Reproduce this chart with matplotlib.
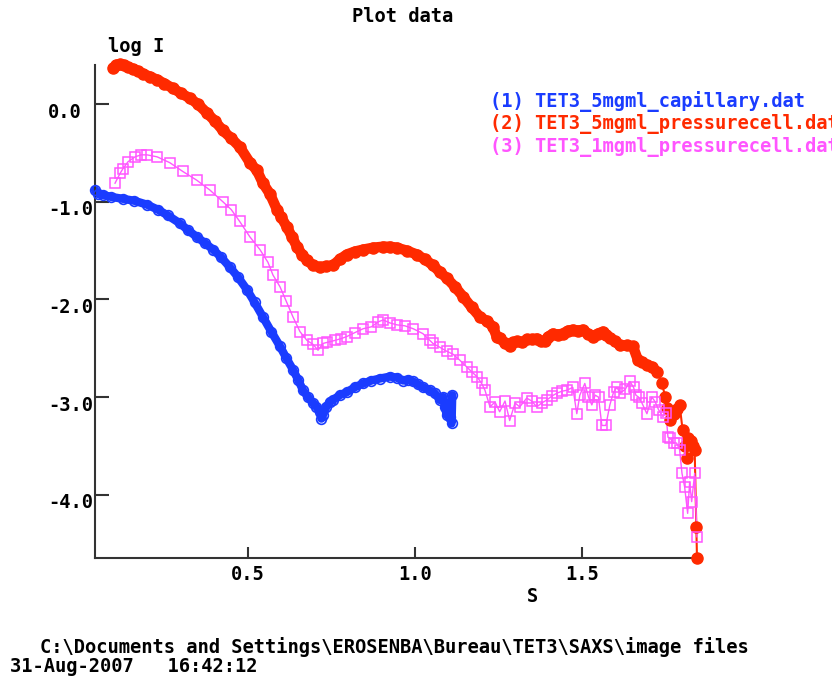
import matplotlib
matplotlib.use("Agg")
import matplotlib.pyplot as plt
from matplotlib import transforms

# ---- data ----
s_cap = [0.042, 0.05, 0.066, 0.09, 0.126, 0.16, 0.198, 0.23, 0.26, 0.296, 0.32, 0.347, 0.37, 0.396,
         0.42, 0.446, 0.47, 0.497, 0.52, 0.545, 0.57, 0.596, 0.615, 0.635, 0.65, 0.665, 0.68, 0.695,
         0.705, 0.716, 0.72, 0.725, 0.735, 0.745, 0.755, 0.775, 0.796, 0.82, 0.845, 0.87, 0.895, 0.925,
         0.945, 0.965, 0.98, 0.995, 1.01, 1.025, 1.045, 1.06, 1.075, 1.085, 1.09, 1.095, 1.10, 1.105, 1.11, 1.112]
i_cap = [-0.88, -0.92, -0.93, -0.95, -0.97, -0.99, -1.03, -1.08, -1.14, -1.22, -1.29, -1.36, -1.42, -1.49,
         -1.57, -1.67, -1.77, -1.90, -2.03, -2.18, -2.33, -2.48, -2.60, -2.72, -2.82, -2.93, -3.00, -3.06,
         -3.10, -3.15, -3.22, -3.18, -3.10, -3.05, -3.03, -2.98, -2.95, -2.90, -2.86, -2.83, -2.81, -2.79,
         -2.80, -2.83, -2.82, -2.84, -2.87, -2.90, -2.93, -2.96, -3.03, -3.00, -3.10, -3.18, -3.08, -3.20, -3.27, -2.98]

s_p5 = [0.096, 0.105, 0.117, 0.128, 0.14, 0.156, 0.17, 0.186, 0.207, 0.228, 0.25, 0.276, 0.30, 0.326,
        0.35, 0.377, 0.40, 0.425, 0.45, 0.476, 0.506, 0.527, 0.545, 0.566, 0.587, 0.60, 0.617, 0.632,
        0.647, 0.662, 0.677, 0.695, 0.716, 0.735, 0.755, 0.775, 0.796, 0.82, 0.845, 0.875, 0.905, 0.925,
        0.946, 0.975, 1.006, 1.03, 1.054, 1.075, 1.095, 1.12, 1.144, 1.17, 1.195, 1.215, 1.234, 1.245,
        1.254, 1.27, 1.284, 1.295, 1.305, 1.32, 1.335, 1.35, 1.365, 1.378, 1.389, 1.40, 1.413, 1.428,
        1.443, 1.458, 1.473, 1.488, 1.503, 1.518, 1.533, 1.548, 1.563, 1.573, 1.584, 1.60, 1.614, 1.635,
        1.653, 1.668, 1.68, 1.695, 1.71, 1.725, 1.740, 1.75, 1.755, 1.764, 1.775, 1.785, 1.793, 1.802,
        1.808, 1.814, 1.817, 1.826, 1.832, 1.838, 1.843, 1.845]
i_p5 = [0.37, 0.40, 0.41, 0.40, 0.38, 0.36, 0.34, 0.31, 0.28, 0.25, 0.21, 0.16, 0.11, 0.06,
        0.00, -0.09, -0.17, -0.27, -0.35, -0.44, -0.60, -0.68, -0.81, -0.92, -1.08, -1.16, -1.26, -1.36,
        -1.46, -1.54, -1.60, -1.65, -1.67, -1.66, -1.65, -1.59, -1.54, -1.51, -1.49, -1.47, -1.46, -1.46,
        -1.47, -1.50, -1.54, -1.59, -1.65, -1.72, -1.78, -1.87, -1.97, -2.08, -2.18, -2.22, -2.28, -2.38,
        -2.39, -2.45, -2.48, -2.44, -2.43, -2.44, -2.41, -2.41, -2.40, -2.43, -2.43, -2.38, -2.35, -2.36,
        -2.35, -2.32, -2.31, -2.32, -2.31, -2.35, -2.38, -2.35, -2.33, -2.36, -2.39, -2.43, -2.47, -2.47,
        -2.48, -2.62, -2.64, -2.67, -2.69, -2.74, -2.86, -3.00, -3.11, -3.23, -3.17, -3.12, -3.08, -3.34,
        -3.50, -3.62, -3.42, -3.45, -3.50, -3.54, -4.33, -4.65]

s_p1 = [0.102, 0.117, 0.126, 0.141, 0.162, 0.180, 0.198, 0.228, 0.266, 0.305, 0.347, 0.386, 0.425, 0.45,
        0.475, 0.506, 0.536, 0.56, 0.575, 0.596, 0.615, 0.635, 0.656, 0.677, 0.695, 0.71, 0.725, 0.737,
        0.76, 0.78, 0.796, 0.82, 0.845, 0.87, 0.89, 0.905, 0.925, 0.946, 0.97, 0.995, 1.024, 1.045,
        1.054, 1.075, 1.095, 1.114, 1.134, 1.155, 1.17, 1.186, 1.20, 1.21, 1.225, 1.24, 1.254, 1.27,
        1.284, 1.30, 1.314, 1.335, 1.35, 1.365, 1.38, 1.395, 1.41, 1.425, 1.44, 1.455, 1.473, 1.485,
        1.494, 1.509, 1.52, 1.530, 1.54, 1.55, 1.56, 1.572, 1.584, 1.595, 1.605, 1.615, 1.63, 1.644,
        1.655, 1.662, 1.67, 1.68, 1.695, 1.71, 1.72, 1.73, 1.743, 1.752, 1.758, 1.764, 1.775, 1.784,
        1.793, 1.80, 1.808, 1.817, 1.823, 1.829, 1.838, 1.845]
i_p1 = [-0.81, -0.71, -0.66, -0.59, -0.54, -0.52, -0.52, -0.54, -0.60, -0.69, -0.78, -0.88, -1.00, -1.08,
        -1.20, -1.36, -1.49, -1.62, -1.75, -1.87, -2.02, -2.18, -2.33, -2.42, -2.46, -2.52, -2.45, -2.44,
        -2.42, -2.40, -2.38, -2.34, -2.30, -2.28, -2.23, -2.21, -2.24, -2.26, -2.27, -2.30, -2.35, -2.42,
        -2.45, -2.49, -2.53, -2.56, -2.62, -2.69, -2.74, -2.79, -2.86, -2.93, -3.10, -3.05, -3.15, -3.04,
        -3.24, -3.06, -3.10, -3.01, -3.04, -3.10, -3.06, -3.03, -2.99, -2.96, -2.94, -2.93, -2.90, -3.17,
        -2.98, -2.86, -3.00, -3.08, -2.98, -3.00, -3.29, -3.29, -3.08, -2.95, -2.90, -2.96, -2.92, -2.84,
        -2.90, -2.98, -3.00, -3.06, -3.17, -3.00, -3.05, -3.13, -3.20, -3.16, -3.41, -3.42, -3.47, -3.47,
        -3.54, -3.78, -3.92, -4.19, -3.87, -4.07, -3.78, -4.43]

x_ticks = [0.5, 1.0, 1.5]
y_ticks = [0.0, -1.0, -2.0, -3.0, -4.0]
legend_labels = ["(1) TET3_5mgml_capillary.dat",
                 "(2) TET3_5mgml_pressurecell.dat",
                 "(3) TET3_1mgml_pressurecell.dat"]
title = "Plot data"
y_label = "log I"
x_label = "S"
footer1 = "C:\\Documents and Settings\\EROSENBA\\Bureau\\TET3\\SAXS\\image files"
footer2 = "31-Aug-2007   16:42:12"

BLUE = "#1a3cff"
RED = "#ff2a00"
MAG = "#ff55ff"
colors = [BLUE, RED, MAG]

W, H = 832, 679
fig = plt.figure(figsize=(W / 100, H / 100), dpi=100)
FONT = dict(family="DejaVu Sans Mono", weight="bold", size=13.5)

def fx(px):
    return px / W

def fy(py):
    return 1 - py / H

ax = fig.add_axes([fx(95), fy(558), fx(697) - fx(95), fy(65) - fy(558)])

# curves
ax.plot(s_cap, i_cap, color=BLUE, lw=6, solid_capstyle="round", solid_joinstyle="round", zorder=2, clip_on=False)
ax.plot(s_cap, i_cap, ls="none", marker="o", ms=7, mfc="none", mec=BLUE, mew=1.2, zorder=3, clip_on=False)
ax.plot(s_p5, i_p5, color=RED, lw=1.5, zorder=2, clip_on=False)
ax.plot(s_p5[:90], i_p5[:90], color=RED, lw=7.5, solid_capstyle="round", solid_joinstyle="round", zorder=2, clip_on=False)
ax.plot(s_p5, i_p5, ls="none", marker="o", ms=8, color=RED, zorder=3, clip_on=False)
ax.plot(s_p1, i_p1, color=MAG, lw=1, zorder=2, clip_on=False)
ax.plot(s_p1, i_p1, ls="none", marker="s", ms=6.5, mfc="none", mec=MAG, mew=1.1, zorder=3, clip_on=False)

ax.set_xlim(0.042, 1.845)
ax.set_ylim(-4.647, 0.40)

for sp in ["top", "right"]:
    ax.spines[sp].set_visible(False)
for sp in ["left", "bottom"]:
    ax.spines[sp].set_color("#333333")
    ax.spines[sp].set_linewidth(1.5)

ax.set_xticks(x_ticks)
ax.set_yticks(y_ticks)
ax.tick_params(axis="x", direction="in", length=8, width=1.5, color="#333333", labelbottom=False)
ax.tick_params(axis="y", direction="in", length=10, width=1.5, color="#333333", labelleft=False)

# x tick labels
for xt in x_ticks:
    ax.text(xt, fy(575), f"{xt:.1f}", transform=transforms.blended_transform_factory(ax.transData, fig.transFigure),
            ha="center", va="center", **FONT)

# y tick labels (left aligned, slightly below tick)
ytr = transforms.offset_copy(transforms.blended_transform_factory(fig.transFigure, ax.transData),
                             fig=fig, x=0, y=-8, units="dots")
for yt in y_ticks:
    ax.text(fx(48), yt, f"{yt:.1f}", transform=ytr, ha="left", va="center", **FONT)

fig.text(fx(403), fy(17), title, ha="center", va="center", **FONT)
fig.text(fx(108), fy(46), y_label, ha="left", va="center", **FONT)
fig.text(fx(532), fy(597), x_label, ha="center", va="center", **FONT)
fig.text(fx(40), fy(653), footer1, ha="left", va="baseline", **FONT)
fig.text(fx(10), fy(672), footer2, ha="left", va="baseline", **FONT)

for k, (lab, c) in enumerate(zip(legend_labels, colors)):
    fig.text(fx(490), fy(101 + 23 * k), lab, color=c, ha="left", va="center", **FONT)

fig.savefig("out.png", dpi=100)
